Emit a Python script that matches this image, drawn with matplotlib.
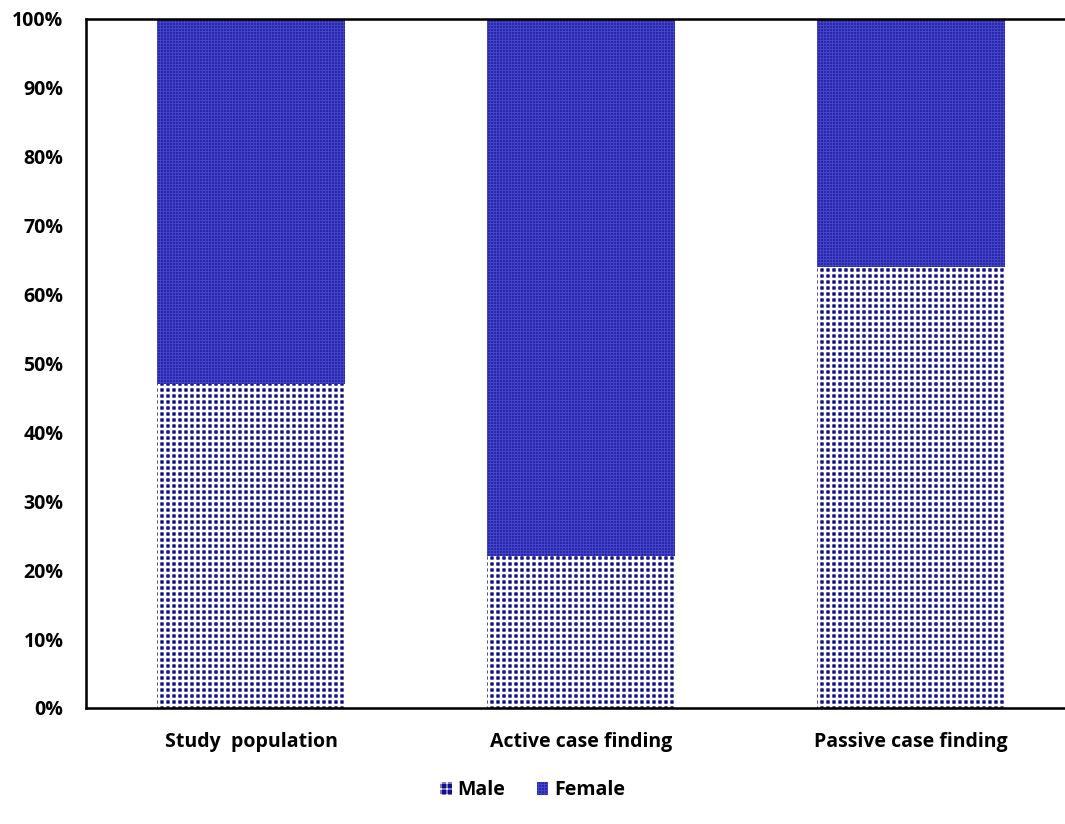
import numpy as np
import matplotlib.pyplot as plt

DPI = 108
plt.rcParams['font.family'] = ['Open Sans', 'DejaVu Sans']
plt.rcParams['font.weight'] = 'bold'

# 各组男女比例（%）
categories = ["Study  population", "Active case finding", "Passive case finding"]
male = [47, 22, 64]
female = [53, 78, 36]
ytick_labels = ["0%", "10%", "20%", "30%", "40%", "50%", "60%", "70%", "80%", "90%", "100%"]

fig = plt.figure(figsize=(1065 / DPI, 824 / DPI), dpi=DPI)
ax = fig.add_axes([0.0808, 0.1408, 0.9295, 0.8362])

x = np.arange(len(categories))
# 男：深蓝点阵（深蓝底 + 白色网格）
plt.rcParams['hatch.linewidth'] = 1.7
b1 = ax.bar(x, male, width=0.57, color='#10108a', edgecolor='white',
            hatch='+++', linewidth=0, label="Male")
# 女：蓝色细纹
plt.rcParams['hatch.linewidth'] = 0.6
b2 = ax.bar(x, female, width=0.57, bottom=male, color='#2828a8',
            edgecolor='#4646cc', hatch='++++++', linewidth=0, label="Female")

ax.set_xlim(-0.5, 2.5)
ax.set_ylim(0, 100)
ax.set_yticks(np.arange(0, 101, 10))
ax.set_yticklabels(ytick_labels)
ax.set_xticks(x)
ax.set_xticklabels(categories)
ax.tick_params(axis='both', length=0, labelsize=13)
ax.tick_params(axis='x', pad=16)
ax.tick_params(axis='y', pad=15)
for s in ['left', 'top', 'bottom', 'right']:
    ax.spines[s].set_linewidth(1.7)
    ax.spines[s].set_color('black')

fig.legend(loc='center', bbox_to_anchor=(0.5, 0.041), ncol=2, frameon=False,
           fontsize=13, handlelength=0.6, handleheight=0.6, handletextpad=0.3,
           columnspacing=1.6)

fig.savefig("out.png", dpi=DPI)
